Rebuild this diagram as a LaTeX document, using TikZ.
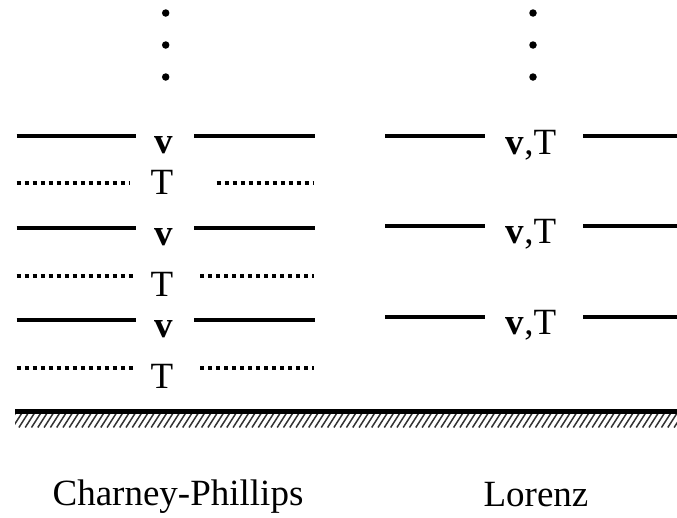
\documentclass[tikz,border=0pt]{standalone}
\usepackage{fontspec}
\setmainfont{Liberation Serif}
\begin{document}
\begin{tikzpicture}[x=1pt,y=-1pt,
  level/.style={line width=4pt},
  halflevel/.style={line width=4pt,dash pattern=on 4pt off 4pt},
  lbl/.style={inner sep=0pt,anchor=base,font=\fontsize{37}{40}\selectfont},
  dotmark/.style={fill=black,circle,inner sep=0pt,minimum size=7.5pt},
  hatchline/.style={line width=1.5pt,black!80}]
\useasboundingbox (0,0) rectangle (677,517);

% vertical ellipses above both grids
\foreach \yy [count=\i] in {13,45,77} {
  \node[dotmark] (cpdot\i) at (165.7,\yy) {};
  \node[dotmark] (lzdot\i) at (533,\yy) {};
}

% Charney-Phillips: velocity levels (solid) with T half levels (dotted)
\foreach \yy/\by [count=\i] in {135.7/153, 227.7/245, 320/337} {
  \node[lbl] (cpv\i) at (164,\by) {\textbf{v}};
  \coordinate (cpvA\i) at (16.7,\yy);
  \coordinate (cpvB\i) at (135.7,\yy);
  \coordinate (cpvC\i) at (194,\yy);
  \coordinate (cpvD\i) at (314.5,\yy);
  \draw[level] (cpvA\i) -- (cpvB\i);
  \draw[level] (cpvC\i) -- (cpvD\i);
}
\foreach \yy/\by/\le/\rs [count=\i] in {183.3/194/130/216.7, 275.7/296/132.7/200, 368.3/388/132.7/200} {
  \node[lbl] (cpT\i) at (162,\by) {T};
  \coordinate (cpTA\i) at (16.7,\yy);
  \coordinate (cpTB\i) at (\le,\yy);
  \coordinate (cpTC\i) at (\rs,\yy);
  \coordinate (cpTD\i) at (314,\yy);
  \draw[halflevel] (cpTA\i) -- (cpTB\i);
  \draw[halflevel] (cpTC\i) -- (cpTD\i);
}

% Lorenz: v and T on the same levels
\foreach \yy/\by [count=\i] in {135.7/154, 226/243, 317/334} {
  \node[lbl] (lz\i) at (531,\by) {\textbf{v},T};
  \coordinate (lzA\i) at (385,\yy);
  \coordinate (lzB\i) at (485,\yy);
  \coordinate (lzC\i) at (583,\yy);
  \coordinate (lzD\i) at (677,\yy);
  \draw[level] (lzA\i) -- (lzB\i);
  \draw[level] (lzC\i) -- (lzD\i);
}

% ground surface with hatching
\fill[black] (15,408.5) rectangle (677,414);
\begin{scope}
  \clip (15,414) rectangle (677,427);
  \foreach \xx in {0,6.3,...,700} {
    \draw[hatchline] (\xx,427.5) -- (\xx+9,413.5);
  }
\end{scope}

% scheme names
\node[lbl] (cpname) at (178,505) {Charney-Phillips};
\node[lbl] (lzname) at (536,506) {Lorenz};
\end{tikzpicture}
\end{document}
